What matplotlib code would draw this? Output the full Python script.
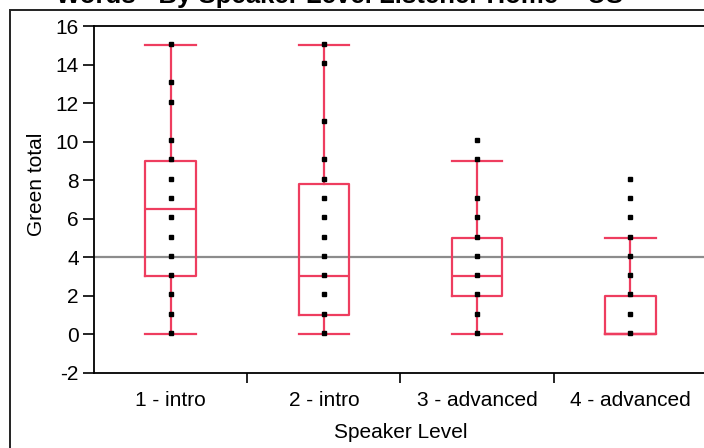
import matplotlib.pyplot as plt
from matplotlib.patches import Rectangle

plt.rcParams['font.family'] = ['Liberation Sans', 'DejaVu Sans']
plt.rcParams['axes.unicode_minus'] = False

# data
levels = ['1 - intro', '2 - intro', '3 - advanced', '4 - advanced']
points_1 = [15, 13, 12, 10, 9, 8, 7, 6, 5, 4, 3, 2, 1, 0]
points_2 = [15, 14, 11, 9, 8, 7, 6, 5, 4, 3, 2, 1, 0]
points_3 = [10, 9, 7, 6, 5, 4, 3, 2, 1, 0]
points_4 = [8, 7, 6, 5, 4, 3, 2, 1, 0]
q1 = [3, 1, 2, 0]
median = [6.5, 3, 3, 0]
q3 = [9, 7.8, 5, 2]
whisker_lo = [0, 0, 0, 0]
whisker_hi = [15, 15, 9, 5]
ref_value = 4

title = 'Words - By Speaker Level Listener Home = US'
box_color = '#EE3D5F'
fs = 15

W, H = 704, 448
fig = plt.figure(figsize=(W / 100, H / 100), dpi=100)
ax = fig.add_axes([94 / W, 1 - 372.7 / H, 613 / W, 346.7 / H])

positions = [i + 0.5 for i in range(len(levels))]
stats = []
for i in range(len(levels)):
    stats.append({'q1': q1[i], 'med': median[i], 'q3': q3[i],
                  'whislo': whisker_lo[i], 'whishi': whisker_hi[i], 'fliers': []})

ax.axhline(ref_value, color='#8c8c8c', lw=1.6, zorder=1)

line_style = dict(color=box_color, lw=1.6)
ax.bxp(stats, positions=positions, widths=0.33, showfliers=False,
       boxprops=line_style, whiskerprops=line_style, capprops=line_style,
       medianprops=line_style, capwidths=0.33, zorder=2)

for pos, pts in zip(positions, [points_1, points_2, points_3, points_4]):
    ax.plot([pos] * len(pts), [p + 0.07 for p in pts], ls='none', marker='s',
            ms=3.4, color='black', zorder=3)

ax.set_xlim(0, 4)
ax.set_ylim(-2, 16)
ax.set_yticks(range(-2, 17, 2))
ax.set_xticks([1, 2, 3])
ax.set_xticklabels([])
ax.set_xticks(positions, minor=True)
ax.set_xticklabels(levels, minor=True)
ax.tick_params(axis='x', which='minor', length=0, pad=13.5, labelsize=fs)
ax.tick_params(axis='x', which='major', length=7, width=1.2, direction='out')
ax.tick_params(axis='y', length=8, width=1.2, pad=3, labelsize=fs)
for sp in ax.spines.values():
    sp.set_linewidth(1.3)

ax.set_ylabel('Green total', fontsize=fs)
ax.yaxis.set_label_coords(-0.078, 0.544)
ax.set_xlabel('Speaker Level', fontsize=fs)
ax.xaxis.set_label_coords(0.5, -0.146)

# outer frame of the report, cut off on the right and bottom
fig.add_artist(Rectangle((9.5 / W, -0.1), 1.2, 1.1 - 10.5 / H, transform=fig.transFigure,
                         fill=False, lw=1.4, edgecolor='#222222', clip_on=False))

# the title is cropped at the top in the original too
t = fig.text(340 / W, 1 - 3.5 / H, title, ha='center', va='baseline',
             fontsize=16, fontweight='bold')
fig.canvas.draw()
w = t.get_window_extent().width
t.set_fontsize(16 * 568 / w)

fig.savefig('out.png', dpi=100)
